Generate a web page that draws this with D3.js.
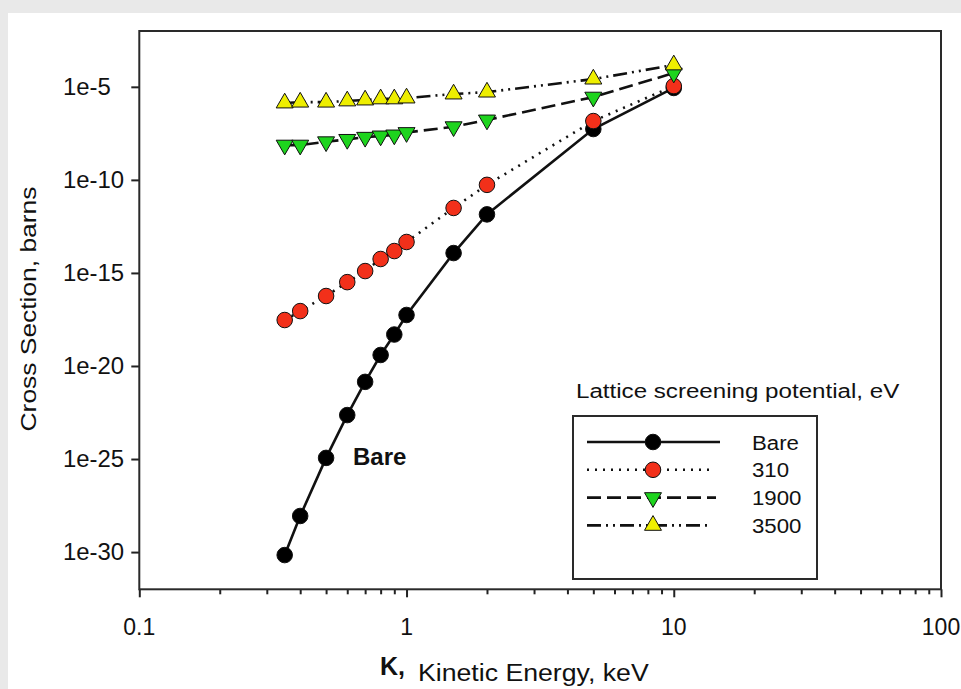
<!DOCTYPE html>
<html><head><meta charset="utf-8">
<script src="https://cdn.jsdelivr.net/npm/d3@7"></script>
<style>
html,body{margin:0;padding:0;background:#e9e9e9;}
svg{display:block;}
text{font-family:"Liberation Sans",Arial,sans-serif;fill:#111;}
</style></head>
<body><svg id="c" width="961" height="689"></svg>
<script>
// ---- data ----
const energies = [0.35, 0.4, 0.5, 0.6, 0.7, 0.8, 0.9, 1, 1.5, 2, 5, 10];
const bare   = [6.9e-31, 8.7e-29, 1.15e-25, 2.3e-23, 1.4e-21, 3.9e-20, 4.9e-19, 5.5e-18, 1.17e-14, 1.4e-12, 5.4e-8, 8.7e-6];
const s310   = [2.95e-18, 8.9e-18, 5.75e-17, 3.2e-16, 1.26e-15, 5.6e-15, 1.5e-14, 4.6e-14, 3.1e-12, 5.4e-11, 1.45e-7, 1.1e-5];
const s1900  = [7.4e-9, 7.4e-9, 1.12e-8, 1.5e-8, 1.95e-8, 2.3e-8, 2.6e-8, 3.5e-8, 7.2e-8, 1.66e-7, 2.8e-6, 5.5e-5];
const s3500  = [1.35e-6, 1.5e-6, 1.5e-6, 1.74e-6, 1.95e-6, 2.24e-6, 2.24e-6, 2.5e-6, 4.1e-6, 5.2e-6, 2.6e-5, 1.5e-4];
const seriesNames = ["Bare", "310", "1900", "3500"];
const xTicks = [0.1, 1, 10, 100];
const xTickLabels = ["0.1", "1", "10", "100"];
const xMinorTicks = [0.2,0.3,0.4,0.5,0.6,0.7,0.8,0.9,2,3,4,5,6,7,8,9,20,30,40,50,60,70,80,90];
const yTicks = [1e-5, 1e-10, 1e-15, 1e-20, 1e-25, 1e-30];
const yTickLabels = ["1e-5", "1e-10", "1e-15", "1e-20", "1e-25", "1e-30"];
const legendTitle = "Lattice screening potential, eV";
const xTitleBold = "K,";
const xTitle = "Kinetic Energy, keV";
const yTitle = "Cross Section, barns";
const curveLabel = "Bare";

// ---- styles ----
const styles = [
  {dash:null, symbol:"circle", fill:"#000000"},
  {dash:"2,6", symbol:"circle", fill:"#f2301a"},
  {dash:"14,6", symbol:"down", fill:"#1ed41e"},
  {dash:"14,5,2,5,2,5", symbol:"up", fill:"#eeee00"}
];
const values = [bare, s310, s1900, s3500];

const svg = d3.select("#c");
svg.append("rect").attr("x",8).attr("y",13).attr("width",953).attr("height",676).attr("fill","#ffffff");

const L=139.3, R=941, T=31, B=589.3;
const x = d3.scaleLog().domain([0.1,100]).range([L,R]);
const y = d3.scaleLog().domain([1e-32,1e-2]).range([B,T]);

function stext(g, str, px, py, size, sx, opts={}){
  const t = g.append("text").attr("transform",`translate(${px},${py})${opts.rot?` rotate(${opts.rot})`:""} scale(${sx},1)`)
    .attr("font-size",size).text(str);
  if(opts.anchor) t.attr("text-anchor",opts.anchor);
  if(opts.bold) t.attr("font-weight","bold");
  return t;
}

// axes
const xAxis = svg.append("g").attr("transform",`translate(0,${B})`)
  .call(d3.axisBottom(x).tickValues(xTicks).tickSize(8).tickFormat(""));
const xMinor = svg.append("g").attr("transform",`translate(0,${B})`)
  .call(d3.axisBottom(x).tickValues(xMinorTicks).tickSize(5).tickFormat(""));
const yAxis = svg.append("g").attr("transform",`translate(${L},0)`)
  .call(d3.axisLeft(y).tickValues(yTicks).tickSize(8).tickFormat(""));
[xAxis,xMinor,yAxis].forEach(g=>{
  g.select(".domain").remove();
  g.selectAll("line").attr("stroke","#222").attr("stroke-width",2);
});
// frame
svg.append("rect").attr("x",L).attr("y",T).attr("width",R-L).attr("height",B-T)
  .attr("fill","none").attr("stroke","#2a2a2a").attr("stroke-width",2);

// tick labels
xTicks.forEach((v,i)=>stext(svg, xTickLabels[i], x(v), 635, 23, 1.0, {anchor:"middle"}));
yTicks.forEach((v,i)=>stext(svg, yTickLabels[i], 63, y(v)+8, 23, 1.04));

// titles
stext(svg, yTitle, 36, 309, 22, 1.2, {anchor:"middle", rot:-90});
stext(svg, xTitleBold, 380, 675, 25, 1.0, {bold:true});
stext(svg, xTitle, 418, 681, 23, 1.16);

// series
const line = d3.line().x(d=>x(d[0])).y(d=>y(d[1]));
const sym = {
  circle: d3.symbol().type(d3.symbolCircle).size(190),
  up: d3.symbol().type(d3.symbolTriangle).size(125),
};
function drawMarker(g, st, cx, cy){
  const rot = st.symbol==="down" ? " rotate(180)" : "";
  const s = st.symbol==="circle" ? sym.circle : sym.up;
  g.append("path").attr("d",s()).attr("transform",`translate(${cx},${cy})${rot}`)
    .attr("fill",st.fill).attr("stroke","#111").attr("stroke-width",1);
}
values.forEach((vals,i)=>{
  const pts = energies.map((e,j)=>[e, vals[j]]);
  svg.append("path").datum(pts).attr("d",line).attr("fill","none")
    .attr("stroke","#111").attr("stroke-width",2.6)
    .attr("stroke-dasharray",styles[i].dash);
});
values.forEach((vals,i)=>{
  const g = svg.append("g");
  energies.forEach((e,j)=>drawMarker(g, styles[i], x(e), y(vals[j])));
});

// curve label
stext(svg, curveLabel, 353, 465, 24, 1.0, {bold:true});

// legend
stext(svg, legendTitle, 576, 398, 21, 1.15);
svg.append("rect").attr("x",573).attr("y",416).attr("width",244).attr("height",163)
  .attr("fill","#fff").attr("stroke","#2a2a2a").attr("stroke-width",2);
const legendEnds = [720, 714, 716, 712];
seriesNames.forEach((n,i)=>{
  const ly = 442 + i*27.8;
  svg.append("line").attr("x1",587).attr("x2",legendEnds[i]).attr("y1",ly).attr("y2",ly)
    .attr("stroke","#111").attr("stroke-width",2.6).attr("stroke-dasharray",styles[i].dash);
  drawMarker(svg, styles[i], 653, ly);
  stext(svg, n, 752, ly+7.5, 21, 1.06);
});
</script></body></html>
